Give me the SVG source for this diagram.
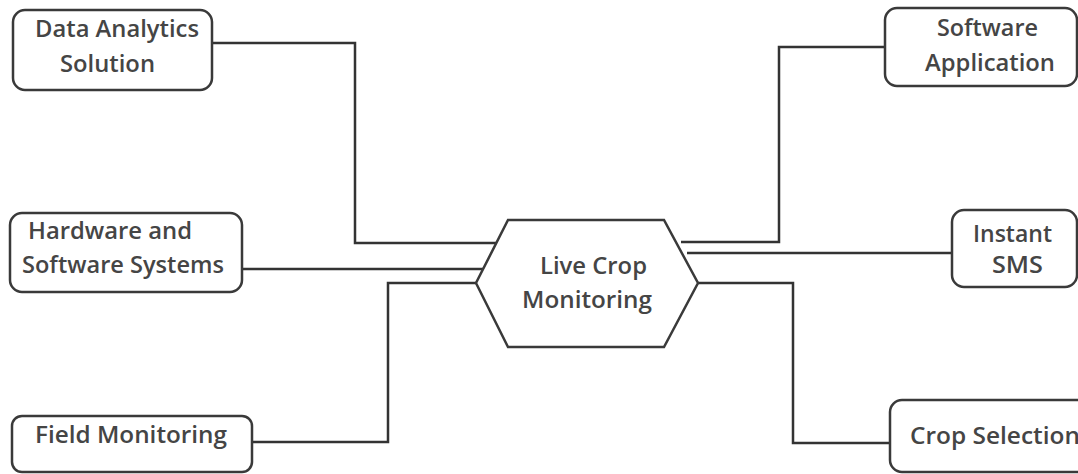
<svg xmlns="http://www.w3.org/2000/svg" width="1078" height="474" viewBox="0 0 1078 474">
<style>
.box{fill:#fff;stroke:#3a3a3a;stroke-width:2.5}
.lbl{font-family:"Open Sans","Liberation Sans",sans-serif;font-size:23px;font-weight:600;fill:#454545}
.conn{fill:none;stroke:#333;stroke-width:2.5}
</style>
<rect width="1078" height="474" fill="#fff"/>
<g id="connectors">
<polyline class="conn" points="212,43 355,43 355,243 497,243"/>
<polyline class="conn" points="242,269 483,269"/>
<polyline class="conn" points="252,442 388,442 388,283 476,283"/>
<polyline class="conn" points="885,47 779,47 779,242 681,242"/>
<polyline class="conn" points="952,253 687,253"/>
<polyline class="conn" points="698,283 793,283 793,443 890,443"/>
</g>
<g id="hub">
<polygon class="box" points="508,220 664,220 698,283 664,347 508,347 476,283"/>
<text class="lbl" x="540" y="274" textLength="107" lengthAdjust="spacingAndGlyphs">Live Crop</text>
<text class="lbl" x="522" y="308" textLength="130" lengthAdjust="spacingAndGlyphs">Monitoring</text>
</g>
<g id="data-analytics">
<rect class="box" x="13" y="10" width="199" height="80" rx="12"/>
<text class="lbl" x="35" y="37" textLength="164" lengthAdjust="spacingAndGlyphs">Data Analytics</text>
<text class="lbl" x="60" y="72" textLength="95" lengthAdjust="spacingAndGlyphs">Solution</text>
</g>
<g id="hardware-software">
<rect class="box" x="10" y="213" width="232" height="79" rx="12"/>
<text class="lbl" x="28" y="239" textLength="164" lengthAdjust="spacingAndGlyphs">Hardware and</text>
<text class="lbl" x="22" y="273" textLength="202" lengthAdjust="spacingAndGlyphs">Software Systems</text>
</g>
<g id="field-monitoring">
<rect class="box" x="12" y="416" width="240" height="56" rx="10"/>
<text class="lbl" x="35" y="443" textLength="192" lengthAdjust="spacingAndGlyphs">Field Monitoring</text>
</g>
<g id="software-application">
<rect class="box" x="885" y="8" width="192" height="78" rx="12"/>
<text class="lbl" x="937" y="36" textLength="101" lengthAdjust="spacingAndGlyphs">Software</text>
<text class="lbl" x="925" y="71" textLength="130" lengthAdjust="spacingAndGlyphs">Application</text>
</g>
<g id="instant-sms">
<rect class="box" x="952" y="210" width="125" height="77" rx="12"/>
<text class="lbl" x="973" y="242" textLength="79" lengthAdjust="spacingAndGlyphs">Instant</text>
<text class="lbl" x="992" y="273" textLength="51" lengthAdjust="spacingAndGlyphs">SMS</text>
</g>
<g id="crop-selection">
<rect class="box" x="890" y="400" width="200" height="72" rx="12"/>
<text class="lbl" x="910" y="444" textLength="170" lengthAdjust="spacingAndGlyphs">Crop Selection</text>
</g>
</svg>
